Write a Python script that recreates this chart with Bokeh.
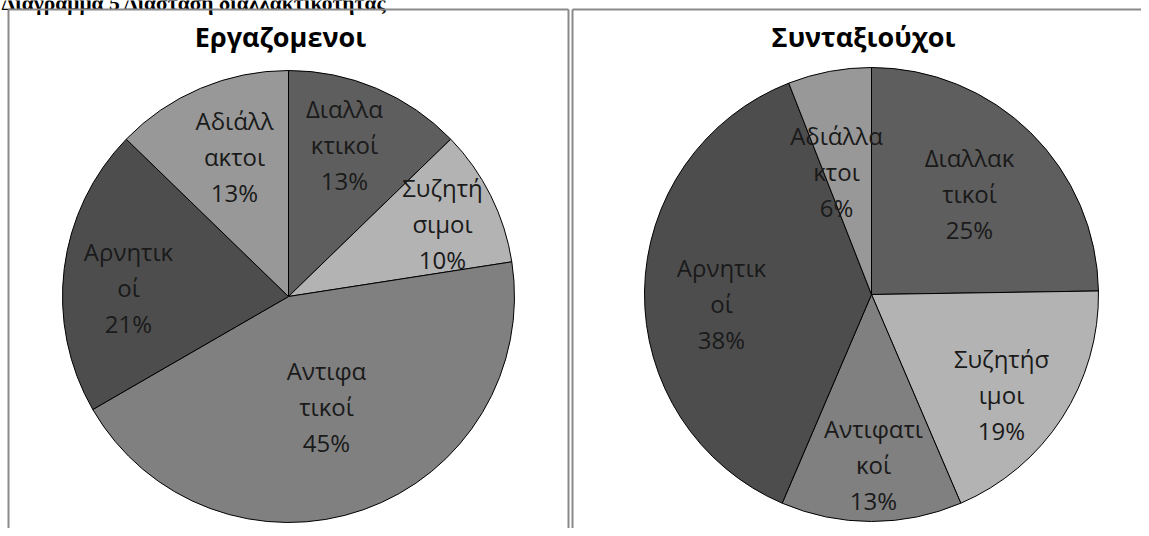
import math
from bokeh.plotting import figure
from bokeh.models import Range1d, ColumnDataSource
from bokeh.embed import file_html
from bokeh.resources import INLINE
from bokeh.core.properties import value

# ---------------- data ----------------
caption = "Διάγραμμα 5 Διάσταση διαλλακτικότητας"
categories = ["Διαλλακτικοί", "Συζητήσιμοι", "Αντιφατικοί", "Αρνητικοί", "Αδιάλλακτοι"]
titles = ["Εργαζομενοι", "Συνταξιούχοι"]
workers_pct = [13, 10, 45, 21, 13]
retired_pct = [25, 19, 13, 38, 6]
workers_label_lines = [["Διαλλα", "κτικοί"], ["Συζητή", "σιμοι"], ["Αντιφα", "τικοί"],
                       ["Αρνητικ", "οί"], ["Αδιάλλ", "ακτοι"]]
retired_label_lines = [["Διαλλακ", "τικοί"], ["Συζητήσ", "ιμοι"], ["Αντιφατι", "κοί"],
                       ["Αρνητικ", "οί"], ["Αδιάλλα", "κτοι"]]

# ---------------- styles / layout ----------------
colors = ["#5e5e5e", "#b3b3b3", "#808080", "#4d4d4d", "#989898"]
W, H = 1141, 528
FONT = "Open Sans"
LABEL_SIZE = "24px"
TITLE_SIZE = "27px"
LINE_GAP = 36


def px(X, Y):
    """Convert reference-image pixel coords to data coords."""
    return X, H - Y


panels = [
    dict(center=(288, 296), radius=226, title_x=280, values=workers_pct,
         lines=workers_label_lines,
         offsets=[(56, -152), (154, -73), (38, 110), (-160, -9), (-54, -140)]),
    dict(center=(871, 294), radius=227, title_x=863, values=retired_pct,
         lines=retired_label_lines,
         offsets=[(98, -101), (130, 100), (2, 170), (-150, 9), (-35, -123)]),
]

p = figure(width=W, height=H, output_backend="svg", toolbar_location=None,
           x_range=Range1d(0, W), y_range=Range1d(0, H), min_border=0)
p.axis.visible = False
p.grid.visible = False
p.outline_line_color = None
p.background_fill_color = "white"

# document caption (cut off at the top, as in the source page)
cx0, cy0 = px(1, 2.5)
p.text(x=[cx0], y=[cy0], text=[caption], text_font=value("Liberation Serif"),
       text_font_size="21.5px", text_font_style="bold", text_align="left",
       text_baseline="alphabetic", text_color="black")

# panel borders
bc = "#8a8a8a"
bx0, by0 = px(8, 9)
bx1, _ = px(568, 9)
bx2, _ = px(572, 9)
p.line([bx0, bx0], [0, by0], line_color=bc, line_width=2)
p.line([bx0, bx1], [by0, by0], line_color=bc, line_width=2)
p.line([bx1, bx1], [0, by0], line_color=bc, line_width=2)
p.line([bx2, bx2], [0, by0], line_color=bc, line_width=2)
p.line([bx2, W], [by0, by0], line_color=bc, line_width=2)

for k, pn in enumerate(panels):
    cx, cy = px(*pn["center"])
    vals = pn["values"]
    tot = float(sum(vals))
    starts, ends, cum = [], [], 0.0
    for v in vals:
        a0 = cum / tot
        cum += v
        a1 = cum / tot
        starts.append(math.pi / 2 - 2 * math.pi * a1)
        ends.append(math.pi / 2 - 2 * math.pi * a0)
    src = ColumnDataSource(dict(x=[cx] * len(vals), y=[cy] * len(vals),
                                start=starts, end=ends, color=colors,
                                cat=categories))
    p.wedge(x="x", y="y", radius=pn["radius"], start_angle="start", end_angle="end",
            fill_color="color", line_color="black", line_width=1, source=src)

    # labels
    tx, ty, tt = [], [], []
    for i, v in enumerate(vals):
        ox, oy = pn["offsets"][i]
        mx, my = pn["center"][0] + ox, pn["center"][1] + oy
        rows = pn["lines"][i] + [f"{v}%"]
        for j, r in enumerate(rows):
            X, Y = px(mx, my + (j - 1) * LINE_GAP)
            tx.append(X)
            ty.append(Y)
            tt.append(r)
    p.text(x=tx, y=ty, text=tt, text_font=value(FONT), text_font_size=LABEL_SIZE,
           text_align="center", text_baseline="middle", text_color="#1a1a1a")

    # title
    X, Y = px(pn["title_x"], 36)
    p.text(x=[X], y=[Y], text=[titles[k]], text_font=value(FONT), text_font_size=TITLE_SIZE,
           text_font_style="bold", text_align="center", text_baseline="middle",
           text_color="black")

open("out.html", "w").write(file_html(p, INLINE))
